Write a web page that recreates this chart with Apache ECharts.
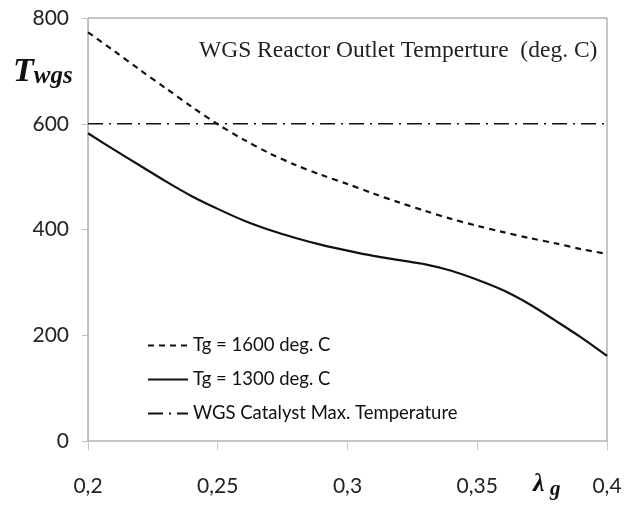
<!DOCTYPE html>
<html>
<head>
<meta charset="utf-8">
<script src="https://cdn.jsdelivr.net/npm/echarts@6/dist/echarts.min.js"></script>
<style>html,body{margin:0;padding:0;background:#fff;}#c{width:626px;height:505px;}</style>
</head>
<body>
<div id="c"></div>
<script>
var lambdaValues = [0.20,0.21,0.22,0.23,0.24,0.25,0.26,0.27,0.28,0.29,0.30,0.31,0.32,0.33,0.34,0.35,0.36,0.37,0.38,0.39,0.40];
var tg1600 = [773,738,702,667,632,599,570,544,522,503,486,468,451,435,420,407,395,384,374,363,354];
var tg1300 = [582,551,521,491,463,439,417,399,384,371,360,350,342,334,322,305,285,259,228,196,161];
var catalystLambda = [0.20,0.40];
var catalystMax = [600,600];
var xTickLabels = {"0.2":"0,2","0.25":"0,25","0.3":"0,3","0.35":"0,35","0.4":"0,4"};
var seriesNames = ["Tg = 1600 deg. C","Tg = 1300 deg. C","WGS Catalyst Max. Temperature"];

function pairs(xs, ys){ return xs.map(function(x,i){ return [x, ys[i]]; }); }

var serifBI = {fontFamily:'Liberation Serif', fontStyle:'italic', fontWeight:'bold', color:'#111'};
function sty(extra){ var o = {}; for (var k in serifBI) o[k]=serifBI[k]; for (var k2 in extra) o[k2]=extra[k2]; return o; }

var chart = echarts.init(document.getElementById('c'), null, {renderer:'canvas'});
chart.setOption({
  animation:false,
  backgroundColor:'#ffffff',
  title:[
    {text:'WGS Reactor Outlet Temperture  (deg. C)', left:199, top:39, padding:0,
     textStyle:{fontFamily:'Liberation Serif', fontSize:23.5, fontWeight:'normal', color:'#222'}},
    {text:'{t|T}{s|wgs}', left:13, top:55, padding:0,
     textStyle:{rich:{
       t:sty({fontSize:34, verticalAlign:'bottom'}),
       s:sty({fontSize:25, verticalAlign:'bottom'})
     }}},
    {text:'λ', left:533, top:471, padding:0, textStyle:sty({fontSize:26})},
    {text:'g', left:550, top:479, padding:0, textStyle:sty({fontSize:21})}
  ],
  grid:{left:88, right:19, top:18, bottom:64, show:true, borderColor:'#8a8a8a', borderWidth:1, backgroundColor:'transparent'},
  legend:{
    orient:'vertical', left:147, top:336, itemWidth:40, itemHeight:10, itemGap:15, padding:0,
    data:seriesNames,
    itemStyle:{opacity:0, borderWidth:0},
    textStyle:{fontFamily:'Lato', fontSize:18.5, color:'#111'}
  },
  xAxis:{
    type:'value', min:0.2, max:0.4, interval:0.05,
    axisLine:{show:true, lineStyle:{color:'#c8c8c8', width:1}},
    axisTick:{show:true, length:9, lineStyle:{color:'#c8c8c8'}},
    splitLine:{show:false},
    axisLabel:{margin:35, fontFamily:'Lato', fontSize:21, color:'#222',
      formatter:function(v){ var k = String(Math.round(v*100)/100); return xTickLabels[k] || k.replace('.',','); }}
  },
  yAxis:{
    type:'value', min:0, max:800, interval:200,
    axisLine:{show:true, lineStyle:{color:'#bdbdbd', width:1}},
    axisTick:{show:true, length:6, lineStyle:{color:'#bdbdbd'}},
    splitLine:{show:false},
    axisLabel:{margin:19, fontFamily:'Lato', fontSize:21, color:'#222'}
  },
  series:[
    {name:seriesNames[0], type:'line', smooth:0.3, showSymbol:false, symbol:'none',
     data:pairs(lambdaValues, tg1600),
     lineStyle:{color:'#111', width:2.2, type:[6,5]}, itemStyle:{color:'#111'}},
    {name:seriesNames[1], type:'line', smooth:0.3, showSymbol:false, symbol:'none',
     data:pairs(lambdaValues, tg1300),
     lineStyle:{color:'#111', width:2.2, type:'solid'}, itemStyle:{color:'#111'}},
    {name:seriesNames[2], type:'line', showSymbol:false, symbol:'none',
     data:pairs(catalystLambda, catalystMax),
     lineStyle:{color:'#111', width:1.6, type:[15,6,2,6]}, itemStyle:{color:'#111'}}
  ]
});
</script>
</body>
</html>
